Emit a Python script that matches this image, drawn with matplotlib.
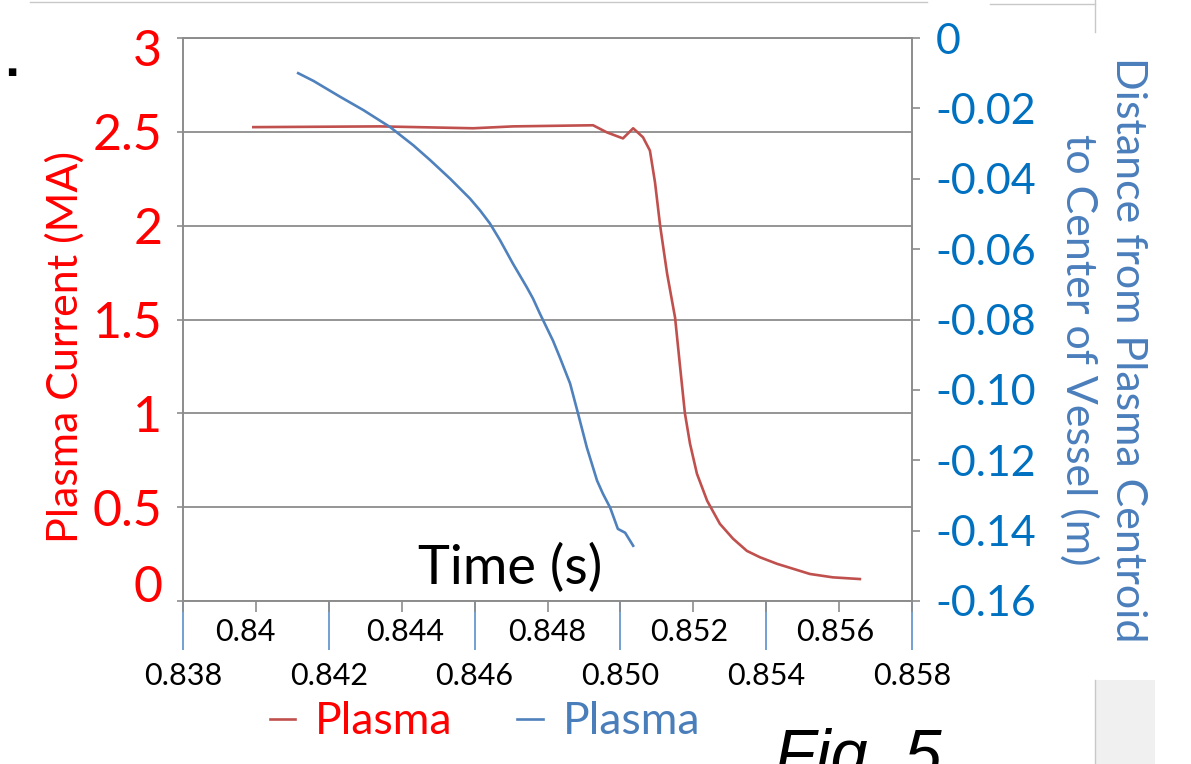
import numpy as np
import matplotlib
matplotlib.use('Agg')
import matplotlib.pyplot as plt
import matplotlib.transforms as mtransforms
from matplotlib.lines import Line2D
from matplotlib.patches import Rectangle

plt.rcParams['font.family'] = ['Lato', 'DejaVu Sans']

#### data ####
# plasma current (left axis, MA)
red_t = [0.83993, 0.84340, 0.84596, 0.84705, 0.84925, 0.84963, 0.85007, 0.85035,
         0.85062, 0.85081, 0.85095, 0.85109, 0.85128, 0.85150, 0.85164, 0.85177,
         0.85191, 0.85210, 0.85238, 0.85273, 0.85309, 0.85347, 0.85383, 0.85430,
         0.85520, 0.85583, 0.85657]
red_ma = [2.525, 2.529, 2.519, 2.529, 2.535, 2.497, 2.465, 2.519,
          2.471, 2.400, 2.230, 2.000, 1.746, 1.510, 1.243, 1.000,
          0.838, 0.678, 0.534, 0.411, 0.332, 0.267, 0.233, 0.198,
          0.144, 0.126, 0.117]

# centroid distance (right axis, m)
blue_t = [0.84116, 0.84158, 0.84231, 0.84295, 0.84368, 0.84432, 0.84478, 0.84533,
          0.84587, 0.84615, 0.84642, 0.84670, 0.84705, 0.84743, 0.84760, 0.84779,
          0.84815, 0.84834, 0.84862, 0.84884, 0.84908, 0.84936, 0.84952, 0.84972,
          0.84985, 0.84993, 0.85013, 0.85035]
blue_m = [-0.0100, -0.0122, -0.0167, -0.0205, -0.0253, -0.0305, -0.0347, -0.0400,
          -0.0456, -0.0490, -0.0527, -0.0575, -0.0641, -0.0708, -0.0740, -0.0783,
          -0.0860, -0.0908, -0.0982, -0.1068, -0.1164, -0.1258, -0.1295, -0.1335,
          -0.1372, -0.1395, -0.1406, -0.1443]

left_ticks = [0, 0.5, 1, 1.5, 2, 2.5, 3]
left_labels = ['0', '0.5', '1', '1.5', '2', '2.5', '3']
right_ticks = [-0.16, -0.14, -0.12, -0.10, -0.08, -0.06, -0.04, -0.02, 0]
right_labels = ['-0.16', '-0.14', '-0.12', '-0.10', '-0.08', '-0.06', '-0.04', '-0.02', '0']

time_major = [0.838, 0.842, 0.846, 0.850, 0.854, 0.858]
bottom_labels = ['0.838', '0.842', '0.846', '0.850', '0.854', '0.858']
time_minor = [0.840, 0.844, 0.848, 0.852, 0.856]
top_pos = [0.8397, 0.8441, 0.8480, 0.8519, 0.8559]
top_labels = ['0.84', '0.844', '0.848', '0.852', '0.856']

red_line_c = '#C0504D'
blue_line_c = '#4F81BD'
gray = '#8c8c8c'

fig = plt.figure(figsize=(11.91, 7.64), dpi=100)
fig.patch.set_facecolor('white')
ax = fig.add_axes([183/1191, 163/764, 729/1191, 563/764])

##### left axis: plasma current #####
l_red, = ax.plot(red_t, red_ma, color=red_line_c, lw=1.9, zorder=3)
ax.set_xlim(0.838, 0.858)
ax.set_ylim(0, 3)
ax.set_yticks(left_ticks, labels=left_labels)
ax.grid(axis='y', color=gray, lw=1.3)
ax.tick_params(axis='y', colors=gray, labelcolor='#FF0000', labelsize=36,
               length=4, width=1.2, pad=11)
ax.set_xticks(time_major, labels=bottom_labels)
ax.set_xticks(time_minor, minor=True)
ax.tick_params(axis='x', which='both', colors=gray, labelcolor='black',
               labelsize=22, length=8, width=1.2, pad=36)
for s in ax.spines.values():
    s.set_color(gray)
    s.set_linewidth(1.2)

##### right axis: distance #####
ax2 = ax.twinx()
l_blue, = ax2.plot(blue_t, blue_m, color=blue_line_c, lw=1.9, zorder=3)
ax2.set_ylim(-0.16, 0)
ax2.set_yticks(right_ticks, labels=right_labels)
ax2.tick_params(axis='y', colors=gray, labelcolor='#0070C0', labelsize=31,
                length=6, width=1.2, pad=11)
for s in ax2.spines.values():
    s.set_color(gray)
    s.set_linewidth(1.2)

##### second time axis (blue ticks, upper label row) #####
sec = ax.secondary_xaxis('bottom')
sec.spines['bottom'].set_visible(False)
sec.set_xticks(time_major, labels=[''] * len(time_major))
sec.set_xticks(top_pos, labels=top_labels, minor=True)
sec.tick_params(which='major', color='#5B8FCB', length=35, width=1.2)
sec.tick_params(which='minor', length=0, labelsize=22, pad=12)

##### texts #####
ax.text(-0.162, 0.451, 'Plasma Current (MA)', transform=ax.transAxes, rotation=90,
        ha='center', va='center', color='#FF0000', fontsize=31)
ax.text(1.262, 0.446, 'Distance from Plasma Centroid\nto Center of Vessel (m)',
        transform=ax.transAxes, rotation=270, ha='center', va='center',
        multialignment='center', color='#4A7EBB', fontsize=31, linespacing=1.3)
ax.text(0.449, 0.059, 'Time (s)', transform=ax.transAxes, ha='center', va='center',
        fontsize=39, color='black')

leg = fig.legend([l_red, l_blue], ['Plasma', 'Plasma'], loc='center',
                 bbox_to_anchor=(485/1191, 42/764), ncol=2, frameon=False,
                 fontsize=32, handlelength=0.57, handletextpad=0.45, columnspacing=1.45)
leg.get_texts()[0].set_color('#FF0000')
leg.get_texts()[1].set_color('#4A7EBB')

fig.text(775/1191, 1 - 728/764, 'Fig. 5', fontsize=48, fontstyle='italic',
         family='Liberation Sans', va='top', ha='left')
fig.text(12/1191, 1 - 72/764, '■', fontsize=7, ha='center', va='center',
         family='DejaVu Sans')

# end labels of the left axis sit pulled inward, as in the original
ylabs = ax.get_yticklabels()
ylabs[0].set_transform(ylabs[0].get_transform() +
                       mtransforms.ScaledTranslation(0, 0.17, fig.dpi_scale_trans))
ylabs[-1].set_transform(ylabs[-1].get_transform() +
                        mtransforms.ScaledTranslation(0, -0.10, fig.dpi_scale_trans))

# slide leftovers around the chart
fig.add_artist(Rectangle((1095/1191, 0), 60/1191, 84/764, transform=fig.transFigure,
                         facecolor='#f0f0f0', edgecolor='none'))
fig.add_artist(Line2D([1095/1191, 1095/1191], [0, 84/764], color='#c8c8c8', lw=1))
fig.add_artist(Line2D([1095/1191, 1095/1191], [1 - 32/764, 1], color='#c8c8c8', lw=1))
fig.add_artist(Line2D([30/1191, 927/1191], [1 - 2/764, 1 - 2/764], color='#c8c8c8', lw=1))
fig.add_artist(Line2D([990/1191, 1095/1191], [1 - 4/764, 1 - 4/764], color='#c8c8c8', lw=1))

fig.savefig('out.png', dpi=100)
plt.close()
